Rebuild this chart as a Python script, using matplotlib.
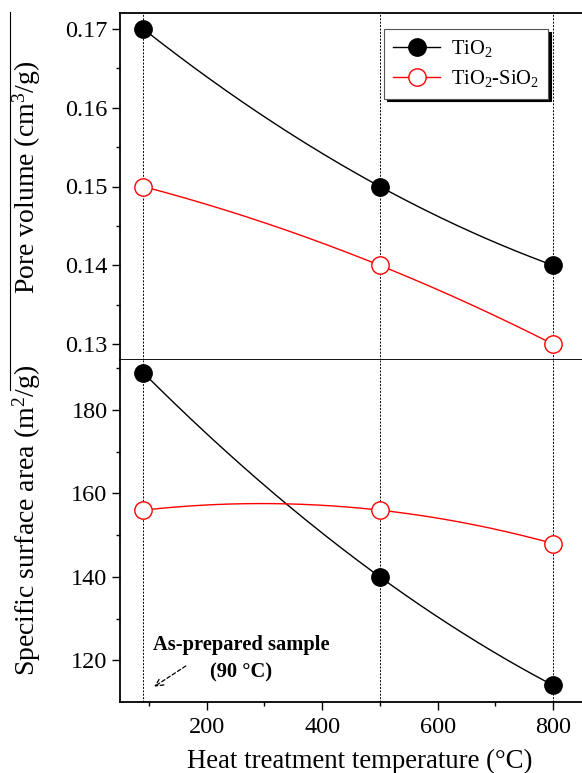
import numpy as np
import matplotlib
matplotlib.use('Agg')
import matplotlib.pyplot as plt
from matplotlib.lines import Line2D

plt.rcParams['font.family'] = ['Liberation Serif', 'DejaVu Serif']
plt.rcParams['mathtext.fontset'] = 'custom'
plt.rcParams['mathtext.rm'] = 'Liberation Serif'
plt.rcParams['mathtext.it'] = 'Liberation Serif:italic'

# data
temps = [90, 500, 800]
pore_tio2 = [0.170, 0.150, 0.140]
pore_tisi = [0.150, 0.140, 0.130]
area_tio2 = [189, 140, 114]
area_tisi = [156, 156, 148]

fig = plt.figure(figsize=(5.82, 7.73), dpi=100)
L, R = 120 / 582, 1.0
top_ax = fig.add_axes([L, 1 - 360 / 773, R - L, (360 - 13) / 773])
bot_ax = fig.add_axes([L, 1 - 702 / 773, R - L, (702 - 360) / 773])

xs = np.linspace(90, 800, 200)

def smooth(ax, y, **kw):
    c = np.polyfit(temps, y, 2)
    ax.plot(xs, np.polyval(c, xs), lw=1.0, color=kw['color'], zorder=2)

for ax in (top_ax, bot_ax):
    for t in temps:
        ax.axvline(t, color='k', ls=(0, (2, 1.5)), lw=0.7, zorder=1)

smooth(top_ax, pore_tio2, color='k')
smooth(top_ax, pore_tisi, color='red')
top_ax.plot(temps, pore_tio2, 'o', ms=12.5, color='k', zorder=3)
top_ax.plot(temps, pore_tisi, 'o', ms=12.5, mfc='white', mec='red', mew=1.0, zorder=3)

smooth(bot_ax, area_tio2, color='k')
smooth(bot_ax, area_tisi, color='red')
bot_ax.plot(temps, area_tio2, 'o', ms=12.5, color='k', zorder=3)
bot_ax.plot(temps, area_tisi, 'o', ms=12.5, mfc='white', mec='red', mew=1.0, zorder=3)

top_ax.set_xlim(50, 850)
bot_ax.set_xlim(50, 850)
top_ax.set_ylim(0.128, 0.172)
bot_ax.set_ylim(110, 192)

top_ax.set_yticks([0.13, 0.14, 0.15, 0.16, 0.17])
top_ax.set_yticks([0.135, 0.145, 0.155, 0.165], minor=True)
bot_ax.set_yticks([120, 140, 160, 180])
bot_ax.set_yticks([130, 150, 170, 190], minor=True)
bot_ax.set_xticks([200, 400, 600, 800])
bot_ax.set_xticks([100, 300, 500, 700], minor=True)
top_ax.set_xticks([])

for ax in (top_ax, bot_ax):
    ax.tick_params(axis='both', which='major', direction='out', length=6, width=1.0,
                   labelsize=17.5, pad=3)
    ax.tick_params(axis='both', which='minor', direction='out', length=3, width=1.0)
    ax.spines['right'].set_visible(False)
    for s in ax.spines.values():
        s.set_linewidth(1.3)
bot_ax.spines['top'].set_visible(False)
bot_ax.tick_params(axis='x', which='major', pad=5)

top_ax.set_ylabel('Pore volume (cm$^3$/g)', fontsize=20)
bot_ax.set_ylabel('Specific surface area (m$^2$/g)', fontsize=20)
top_ax.yaxis.set_label_coords(-(120 - 43) / 462, 0.526)
bot_ax.yaxis.set_label_coords(-(120 - 43) / 462, 0.53)
bot_ax.set_xlabel('Heat treatment temperature (\u00b0C)', fontsize=19.3)
bot_ax.xaxis.set_label_coords((360 - 120) / 462, -(749 - 702) / 342)

leg = top_ax.legend([Line2D([], [], color='k', marker='o', ms=12.5, lw=1.0),
                     Line2D([], [], color='red', marker='o', ms=12.5, mfc='white', lw=1.0)],
                    ['TiO$_2$', 'TiO$_2$-SiO$_2$'],
                    loc='upper left', bbox_to_anchor=(0.571, 0.954), borderaxespad=0,
                    fontsize=14.8, handlelength=2.3, handletextpad=0.5,
                    fancybox=False, framealpha=1,
                    edgecolor='#555555', shadow={'color': 'k', 'alpha': 1},
                    borderpad=0.45, labelspacing=0.45)
leg.get_frame().set_linewidth(0.8)

bot_ax.text(260, 123.6, 'As-prepared sample', fontsize=14.8, fontweight='bold',
            ha='center', va='center')
bot_ax.text(260, 117.1, '(90 \u00b0C)', fontsize=14.8, fontweight='bold',
            ha='center', va='center')
bot_ax.annotate('', xy=(105, 113.3), xytext=(168, 119.0),
                arrowprops=dict(arrowstyle='->', ls=(0, (3, 2)), lw=0.9, color='k',
                                mutation_scale=14))

fig.add_artist(Line2D([9.5 / 582, 9.5 / 582], [1 - 12 / 773, 1 - 390 / 773],
                      color='k', lw=0.8, transform=fig.transFigure))

fig.savefig('out.png', dpi=100)
